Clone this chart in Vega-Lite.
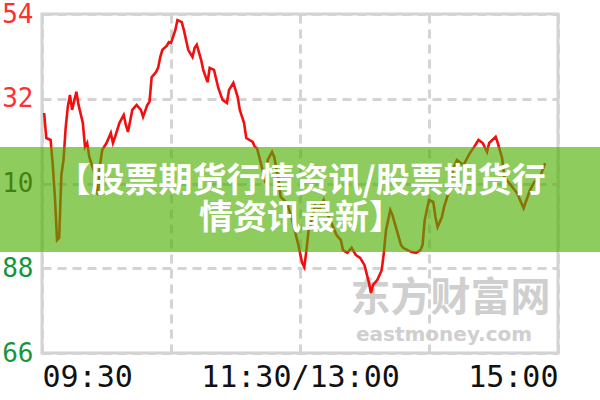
{
  "$schema": "https://vega.github.io/schema/vega-lite/v6.json",
  "autosize": {"type": "none"},
  "width": 516,
  "height": 339,
  "padding": {"left": 42, "top": 14, "right": 42, "bottom": 47},
  "background": "white",
  "config": {
    "view": {"stroke": "#d2d2d2", "strokeWidth": 3},
    "axis": {"title": null, "domain": false, "ticks": false, "grid": true, "gridColor": "#d4d4d4", "gridWidth": 3, "gridDash": [9, 6], "labelFont": "DejaVu Sans Mono", "labelLimit": 400, "labelOverlap": false}
  },
  "datasets": {
    "price": [
      {"m":1,"p":4.283},{"m":2,"p":4.218},{"m":4,"p":4.213},{"m":5,"p":4.148},{"m":6,"p":4.065},{"m":7,"p":3.953},{"m":8,"p":3.959},{"m":9,"p":4.122},{"m":10,"p":4.161},{"m":11,"p":4.244},{"m":12,"p":4.299},{"m":13,"p":4.330},{"m":14,"p":4.291},{"m":16,"p":4.338},{"m":17,"p":4.304},{"m":19,"p":4.257},{"m":20,"p":4.195},{"m":21,"p":4.205},{"m":22,"p":4.169},{"m":24,"p":4.135},{"m":25,"p":4.109},{"m":26,"p":4.070},{"m":27,"p":4.148},{"m":28,"p":4.187},{"m":30,"p":4.205},{"m":32,"p":4.231},{"m":33,"p":4.205},{"m":34,"p":4.221},{"m":36,"p":4.257},{"m":38,"p":4.278},{"m":39,"p":4.252},{"m":40,"p":4.234},{"m":42,"p":4.291},{"m":44,"p":4.304},{"m":46,"p":4.291},{"m":47,"p":4.273},{"m":49,"p":4.304},{"m":50,"p":4.312},{"m":51,"p":4.376},{"m":53,"p":4.389},{"m":54,"p":4.400},{"m":55,"p":4.428},{"m":56,"p":4.447},{"m":58,"p":4.457},{"m":59,"p":4.467},{"m":60,"p":4.465},{"m":62,"p":4.498},{"m":63,"p":4.524},{"m":65,"p":4.519},{"m":66,"p":4.498},{"m":68,"p":4.447},{"m":70,"p":4.428},{"m":71,"p":4.452},{"m":72,"p":4.460},{"m":74,"p":4.421},{"m":75,"p":4.395},{"m":77,"p":4.363},{"m":78,"p":4.400},{"m":80,"p":4.395},{"m":82,"p":4.348},{"m":84,"p":4.317},{"m":86,"p":4.309},{"m":87,"p":4.343},{"m":89,"p":4.361},{"m":91,"p":4.325},{"m":92,"p":4.291},{"m":94,"p":4.257},{"m":95,"p":4.218},{"m":98,"p":4.208},{"m":99,"p":4.195},{"m":100,"p":4.192},{"m":102,"p":4.148},{"m":104,"p":4.101},{"m":105,"p":4.161},{"m":107,"p":4.182},{"m":108,"p":4.169},{"m":110,"p":4.109},{"m":111,"p":4.065},{"m":114,"p":4.049},{"m":116,"p":4.013},{"m":119,"p":3.946},{"m":121,"p":3.894},{"m":122,"p":3.883},{"m":123,"p":3.927},{"m":124,"p":3.979},{"m":126,"p":4.018},{"m":127,"p":4.044},{"m":129,"p":4.031},{"m":131,"p":4.057},{"m":133,"p":4.018},{"m":135,"p":3.992},{"m":137,"p":3.966},{"m":139,"p":3.953},{"m":140,"p":3.927},{"m":142,"p":3.920},{"m":144,"p":3.933},{"m":146,"p":3.914},{"m":148,"p":3.907},{"m":150,"p":3.888},{"m":152,"p":3.844},{"m":153,"p":3.816},{"m":154,"p":3.837},{"m":156,"p":3.850},{"m":158,"p":3.875},{"m":159,"p":3.920},{"m":160,"p":3.979},{"m":162,"p":4.031},{"m":163,"p":4.018},{"m":165,"p":3.979},{"m":167,"p":3.940},{"m":168,"p":3.933},{"m":170,"p":3.927},{"m":172,"p":3.922},{"m":174,"p":3.920},{"m":176,"p":3.927},{"m":177,"p":3.940},{"m":178,"p":4.005},{"m":180,"p":4.057},{"m":182,"p":4.052},{"m":183,"p":4.013},{"m":184,"p":3.987},{"m":186,"p":4.013},{"m":187,"p":4.039},{"m":189,"p":4.075},{"m":191,"p":4.135},{"m":193,"p":4.161},{"m":196,"p":4.148},{"m":199,"p":4.179},{"m":201,"p":4.195},{"m":203,"p":4.213},{"m":205,"p":4.205},{"m":207,"p":4.182},{"m":208,"p":4.205},{"m":211,"p":4.221},{"m":212,"p":4.205},{"m":214,"p":4.166},{"m":215,"p":4.117},{"m":218,"p":4.096},{"m":221,"p":4.075},{"m":223,"p":4.049},{"m":224,"p":4.036},{"m":225,"p":4.052},{"m":227,"p":4.083},{"m":229,"p":4.104},{"m":232,"p":4.122},{"m":234,"p":4.153}
    ],
    "watermark": [
      {"m": 190, "p": 3.800, "t": "东方财富网", "kind": "cn"},
      {"m": 187, "p": 3.706, "t": "eastmoney.com", "kind": "en"}
    ],
    "banner": [
      {"m": -25, "m2": 265, "p": 4.195, "p2": 3.922}
    ],
    "title": [
      {"m": 120.5, "p": 4.104, "t": ["【股票期货行情资讯/股票期货行", "情资讯最新】"]}
    ]
  },
  "layer": [
    {
      "data": {"name": "watermark"},
      "transform": [{"filter": "datum.kind == 'cn'"}],
      "mark": {"type": "text", "font": "Noto Sans CJK SC", "fontWeight": "bold", "fontSize": 40, "color": "#cfcfcf", "baseline": "middle", "align": "center"},
      "encoding": {
        "x": {"field": "m", "type": "quantitative", "scale": {"domain": [0, 240], "nice": false, "zero": false}},
        "y": {"field": "p", "type": "quantitative", "scale": {"domain": [3.66, 4.54], "nice": false, "zero": false}},
        "text": {"field": "t"}
      }
    },
    {
      "data": {"name": "watermark"},
      "transform": [{"filter": "datum.kind == 'en'"}],
      "mark": {"type": "text", "font": "DejaVu Sans", "fontWeight": "bold", "fontSize": 20, "color": "#cfcfcf", "baseline": "middle", "align": "center"},
      "encoding": {
        "x": {"field": "m", "type": "quantitative"},
        "y": {"field": "p", "type": "quantitative"},
        "text": {"field": "t"}
      }
    },
    {
      "data": {"name": "price"},
      "mark": {"type": "line", "color": "#f01010", "strokeWidth": 2.6},
      "encoding": {
        "x": {"field": "m", "type": "quantitative", "axis": {"values": [0, 60, 120, 180, 240], "labelExpr": "datum.value == 0 ? '09:30' : datum.value == 120 ? '11:30/13:00' : datum.value == 240 ? '15:00' : ''", "labelFlush": true, "labelFontSize": 30, "labelColor": "#111111", "labelPadding": 9}},
        "y": {"field": "p", "type": "quantitative", "axis": {"values": [3.66, 3.88, 4.10, 4.32, 4.54], "labelExpr": "substring(format(datum.value, '.2f'), 2)", "labelFontSize": 26, "labelPadding": 9, "labelColor": {"condition": [{"test": "datum.value > 4.2", "value": "#ff3030"}, {"test": "datum.value < 4.0", "value": "#14963a"}], "value": "#333333"}}}
      }
    },
    {
      "data": {"name": "banner"},
      "mark": {"type": "rect", "color": "rgb(78,175,0)", "opacity": 0.63},
      "encoding": {
        "x": {"field": "m", "type": "quantitative"},
        "x2": {"field": "m2"},
        "y": {"field": "p", "type": "quantitative"},
        "y2": {"field": "p2"}
      }
    },
    {
      "data": {"name": "title"},
      "mark": {"type": "text", "font": "Noto Sans CJK SC", "fontWeight": "bold", "fontSize": 34, "lineHeight": 37, "color": "white", "baseline": "middle", "align": "center"},
      "encoding": {
        "x": {"field": "m", "type": "quantitative"},
        "y": {"field": "p", "type": "quantitative"},
        "text": {"field": "t"}
      }
    }
  ]
}
